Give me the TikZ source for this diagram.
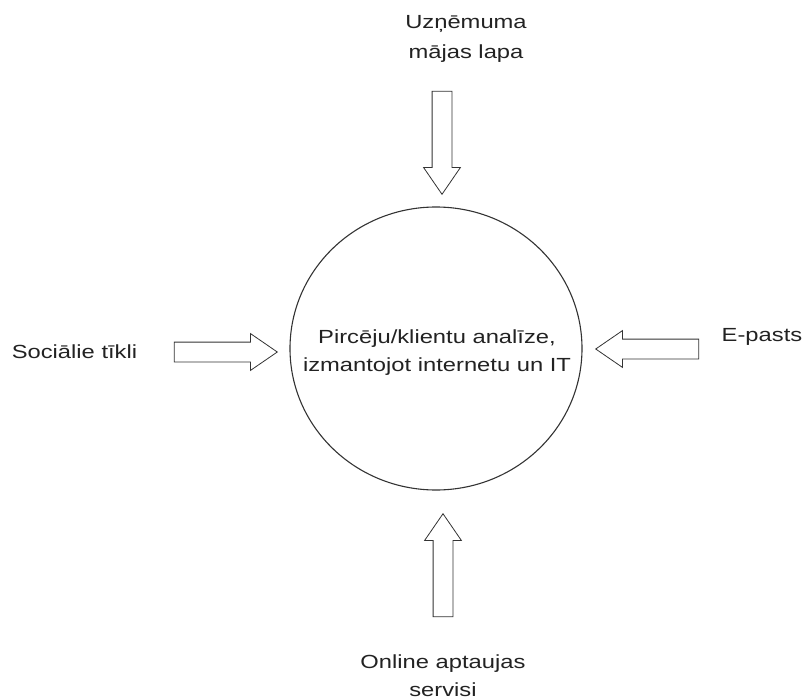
\documentclass[tikz,border=0pt]{standalone}
\usepackage{fontspec}
\setmainfont[FakeStretch=1.25]{Liberation Sans}
\usetikzlibrary{shapes.geometric,shapes.arrows}
\definecolor{ink}{HTML}{222222}
\definecolor{edge}{HTML}{333333}
\begin{document}
\begin{tikzpicture}[x=1pt,y=-1pt,
  label/.style={font=\fontsize{19}{28}\selectfont, text=ink, align=center, inner sep=0pt, anchor=base},
  hub/.style={draw=edge, line width=1.1pt, ellipse, minimum width=292pt, minimum height=283pt, inner sep=0pt},
  blockarrow/.style={draw=edge, line width=0.8pt, single arrow, anchor=tip,
    minimum height=103pt, inner xsep=0pt, inner ysep=9.5pt,
    single arrow head extend=8.5pt, single arrow tip angle=69}]
  \useasboundingbox (0,0) rectangle (807,699);

  % central topic (base anchor sits on the last line)
  \node[hub] (hub) at (436,348.5) {};
  \node[label] (topic) at (437,371) {Pircēju/klientu analīze,\\izmantojot internetu un IT};

  % sources
  \node[label] (web) at (466,58) {Uzņēmuma\\[2pt]mājas lapa};
  \node[label] (social) at (74.5,358) {Sociālie tīkli};
  \node[label] (mail) at (762,341) {E-pasts};
  \node[label] (survey) at (443,696) {Online aptaujas\\servisi};

  % block arrows pointing into the hub
  \node[blockarrow, rotate=-90] (aweb) at (442,195) {};
  \node[blockarrow, rotate=90] (asurvey) at (443,513) {};
  \node[blockarrow] (asocial) at (278,352) {};
  \node[blockarrow, rotate=180] (amail) at (595,349) {};
\end{tikzpicture}
\end{document}
